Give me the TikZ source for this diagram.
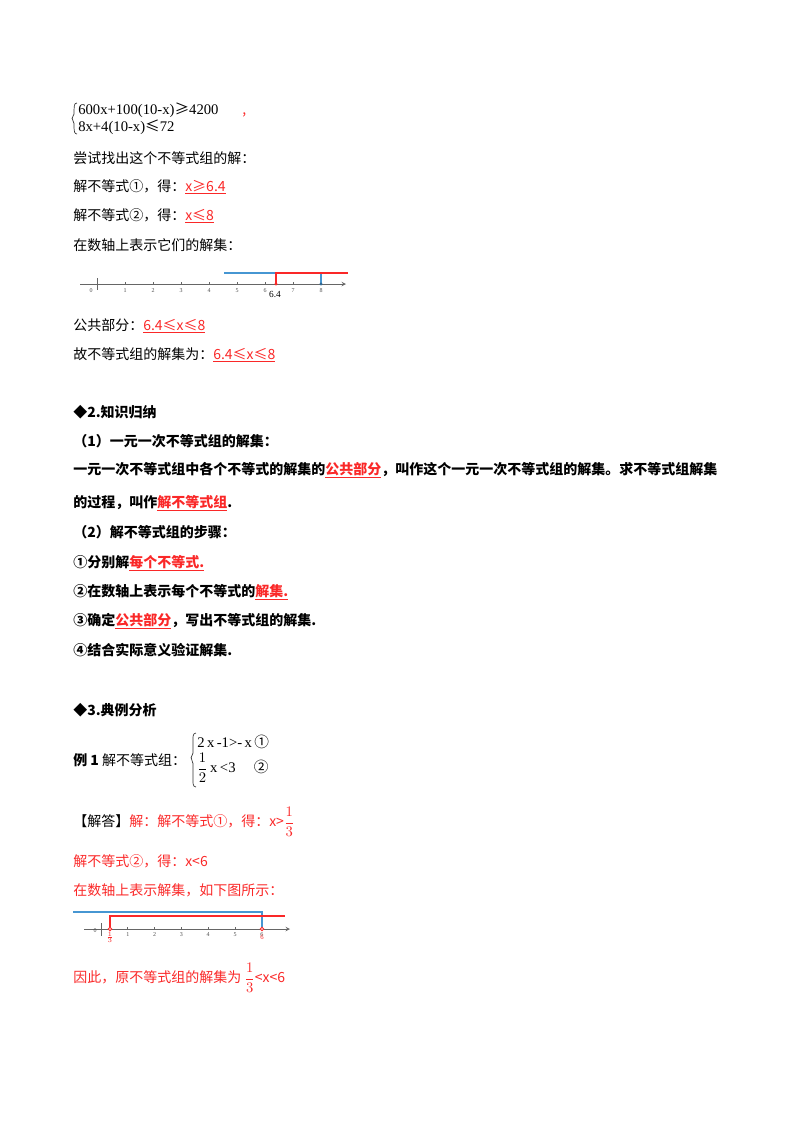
\documentclass[tikz,border=0pt]{standalone}
\usepackage{fontspec}
\setmainfont{Noto Sans CJK SC}
\newfontfamily\sr{Liberation Serif}
\definecolor{rd}{RGB}{250,40,40}
\definecolor{bl}{RGB}{70,150,210}
\begin{document}
\begin{tikzpicture}[x=0.75pt,y=-0.75pt,
 t/.style={anchor=west,inner sep=0pt,font=\fontsize{10.5}{12}\selectfont},
 r/.style={t,text=rd},
 b/.style={t,font=\fontsize{10.5}{12}\selectfont\bfseries},
 ax/.style={draw=black!60,line width=0.5pt},
 tl/.style={inner sep=0pt,font=\sr\fontsize{4.5}{5}\selectfont,text=black!70}]
\useasboundingbox (0,0) rectangle (800,1132);
\newcommand{\ul}[1]{\underline{#1}}
% system 1
\node[t,font=\sr\fontsize{11}{12}\selectfont] (s1) at (78,110) {600x+100(10-x){\rmfamily ≥}4200};
\node[t,font=\sr\fontsize{11}{12}\selectfont] (s2) at (78,127) {8x+4(10-x){\rmfamily ≤}72};
\draw[black!80,line width=0.5pt] (77,103) to[out=180,in=90] (74,110) -- (74,114) to[out=-90,in=90] (72,118.5) to[out=90,in=-90] (74,123) -- (74,128) to[out=-90,in=180] (77,134);
\node[t,text=rd] (cm) at (242,115) {,};
\node[t] (l1) at (73,158) {尝试找出这个不等式组的解：};
\node[t] (l2) at (73,187) {解不等式①，得：\textcolor{rd}{\ul{x≥6.4}}};
\node[t] (l3) at (73,216) {解不等式②，得：\textcolor{rd}{\ul{x≤8}}};
\node[t] (l4) at (73,245) {在数轴上表示它们的解集：};
% number line 1
\draw[ax,-stealth] (80,284) -- (346,284);
\draw[ax] (97,278) -- (97,290);
\node[tl] at (91,291) {0};
\foreach \i in {1,...,8}{\draw[ax] (97+28*\i,282) -- (97+28*\i,284); \node[tl] at (97+28*\i,291) {\i};}
\draw[bl,line width=0.8pt] (224,273) -- (321,273) -- (321,284);
\draw[rd,line width=0.8pt] (276,284) -- (276,273) -- (348,273);
\fill[rd] (276,284) circle (1.6);
\fill[bl!70!black] (321,284) circle (1.6);
\node[inner sep=0pt,font=\sr\fontsize{7}{8}\selectfont] at (275,294) {6.4};
\node[t] (l5) at (73,326) {公共部分：\textcolor{rd}{\ul{6.4≤x≤8}}};
\node[t] (l6) at (73,355) {故不等式组的解集为：\textcolor{rd}{\ul{6.4≤x≤8}}};
% section 2
\node[b] (h2) at (73,412) {◆2.知识归纳};
\node[b] (p1) at (73,441) {（1）一元一次不等式组的解集：};
\node[b] (p2) at (73,470) {一元一次不等式组中各个不等式的解集的\textcolor{rd}{\ul{公共部分}}，叫作这个一元一次不等式组的解集。求不等式组解集};
\node[b] (p3) at (73,503) {的过程，叫作\textcolor{rd}{\ul{解不等式组}}.};
\node[b] (p4) at (73,532) {（2）解不等式组的步骤：};
\node[b] (p5) at (73,563) {①分别解\textcolor{rd}{\ul{每个不等式.}}};
\node[b] (p6) at (73,592) {②在数轴上表示每个不等式的\textcolor{rd}{\ul{解集.}}};
\node[b] (p7) at (73,621) {③确定\textcolor{rd}{\ul{公共部分}}，写出不等式组的解集.};
\node[b] (p8) at (73,650) {④结合实际意义验证解集.};
% section 3
\node[b] (h3) at (73,710) {◆3.典例分析};
\node[t] (e1) at (73,760) {\textbf{例 1}\ 解不等式组：};
\draw[black!80,line width=0.5pt] (196,733) to[out=180,in=90] (193,742) -- (193,753) to[out=-90,in=90] (191,758) to[out=90,in=-90] (193,763) -- (193,778) to[out=-90,in=180] (196,787);
\node[t,font=\sr\fontsize{11}{12}\selectfont] (e2) at (197,742) {2\,x\,-1>-\,x\,{\rmfamily ①}};
\node[t,font=\sr\fontsize{11}{12}\selectfont] (e3) at (197,768) {$\displaystyle\frac{1}{2}$\,x\,<3\quad\ {\rmfamily ②}};
\node[t] (a1) at (73,822) {【解答】\textcolor{rd}{解：解不等式①，得：x>{\sr$\displaystyle\frac{1}{3}$}}};
\node[r] (a2) at (73,861) {解不等式②，得：x<6};
\node[r] (a3) at (73,890) {在数轴上表示解集，如下图所示：};
% number line 2
\draw[ax,-stealth] (84,929) -- (290,929);
\draw[ax] (101,923) -- (101,936);
\node[tl] at (95,931) {0};
\foreach \i in {1,...,6}{\draw[ax] (101+26.8*\i,927) -- (101+26.8*\i,929); \node[tl] at (101+26.8*\i,935) {\i};}
\draw[bl,line width=0.8pt] (73,912) -- (262,912) -- (262,929);
\draw[rd,line width=0.8pt] (110,929) -- (110,916) -- (285,916);
\draw[rd,line width=0.6pt,fill=white] (110,929) circle (1.8);
\draw[rd,line width=0.6pt,fill=white] (262,929) circle (1.8);
\node[inner sep=0pt,font=\sr\fontsize{3.5}{4}\selectfont,text=rd] at (110,937) {$\frac{1}{3}$};
\node[inner sep=0pt,font=\sr\fontsize{5}{6}\selectfont,text=rd] at (262,937) {6};
\node[r] (a4) at (73,978) {因此，原不等式组的解集为 {\sr$\displaystyle\frac{1}{3}$}<x<6};
\end{tikzpicture}
\end{document}
